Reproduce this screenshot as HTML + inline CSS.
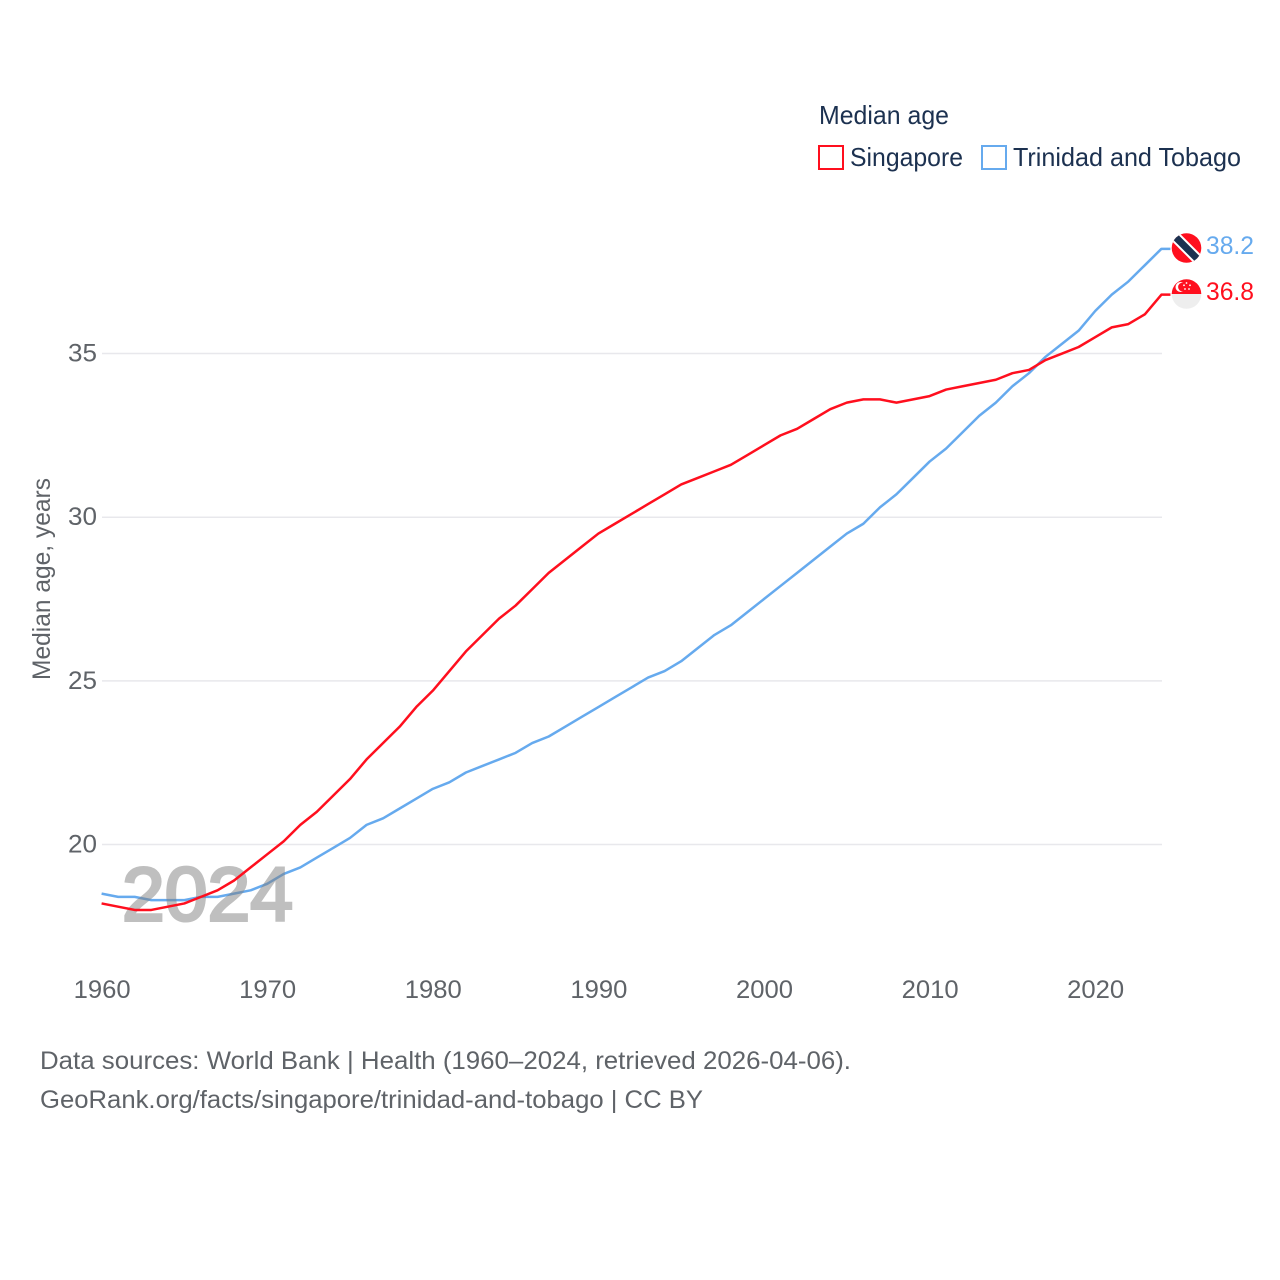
<!DOCTYPE html>
<html lang="en">
<head>
<meta charset="utf-8">
<title>Median age: Singapore and Trinidad and Tobago</title>
<style>
html,body{margin:0;padding:0;background:#fff;width:1280px;height:1280px;overflow:hidden}
svg{display:block}
text{font-family:"Liberation Sans",sans-serif}
.tick{font-size:25px;fill:#5f6368}
.foot{font-size:25px;fill:#5f6368}
.leg{font-size:26px;fill:#1c3150}
</style>
</head>
<body>
<svg id="chart" width="1280" height="1280" viewBox="0 0 1280 1280" xmlns="http://www.w3.org/2000/svg">
  <g id="grid"></g>
  <g id="yticks"></g>
  <g id="xticks"></g>
  <text class="tick" transform="translate(50,579) rotate(-90)" text-anchor="middle" textLength="202" lengthAdjust="spacingAndGlyphs">Median age, years</text>
  <g id="series-back"></g>
  <text id="year-label" x="122" y="920.5" font-size="76" font-weight="400" fill="#808080" stroke="#808080" stroke-width="3" opacity="0.5" textLength="171" lengthAdjust="spacingAndGlyphs">2024</text>
  <g id="series-front"></g>

  <g id="flag-tt">
    <clipPath id="clip-tt"><circle cx="1186.5" cy="248" r="14.8"/></clipPath>
    <g clip-path="url(#clip-tt)">
      <rect x="1170" y="232" width="33" height="33" fill="#ff0f1e"/>
      <line x1="1170.5" y1="232" x2="1202.5" y2="264" stroke="#fff" stroke-width="11"/>
      <line x1="1170.5" y1="232" x2="1202.5" y2="264" stroke="#1c3150" stroke-width="7"/>
    </g>
  </g>
  <g id="flag-sg">
    <clipPath id="clip-sg"><circle cx="1186.5" cy="294" r="14.8"/></clipPath>
    <g clip-path="url(#clip-sg)">
      <rect x="1170" y="294" width="33" height="16" fill="#eeeeee"/>
      <rect x="1170" y="278" width="33" height="16" fill="#ff0f1e"/>
      <circle cx="1180.5" cy="287" r="5" fill="#fff"/>
      <circle cx="1182.5" cy="287" r="4.4" fill="#ff0f1e"/>
      <circle cx="1186.5" cy="283" r="0.9" fill="#fff"/>
      <circle cx="1190" cy="285.3" r="0.9" fill="#fff"/>
      <circle cx="1189" cy="289" r="0.9" fill="#fff"/>
      <circle cx="1185" cy="289" r="0.9" fill="#fff"/>
      <circle cx="1184" cy="285.3" r="0.9" fill="#fff"/>
    </g>
  </g>

  <text id="value-tt" x="1206" y="254" font-size="25" fill="#66aaee" textLength="48" lengthAdjust="spacingAndGlyphs"></text>
  <text id="value-sg" x="1206" y="300" font-size="25" fill="#ff0f1e" textLength="48" lengthAdjust="spacingAndGlyphs"></text>

  <text class="leg" x="819" y="124" textLength="130" lengthAdjust="spacingAndGlyphs">Median age</text>
  <rect x="819" y="146" width="24" height="23" fill="#fff" stroke="#ff0f1e" stroke-width="2"/>
  <text class="leg" x="850" y="166" textLength="113" lengthAdjust="spacingAndGlyphs">Singapore</text>
  <rect x="982" y="146" width="24" height="23" fill="#fff" stroke="#66aaee" stroke-width="2"/>
  <text class="leg" x="1013" y="166" textLength="228" lengthAdjust="spacingAndGlyphs">Trinidad and Tobago</text>

  <text class="foot" x="40" y="1069" textLength="811" lengthAdjust="spacingAndGlyphs">Data sources: World Bank | Health (1960–2024, retrieved 2026-04-06).</text>
  <text class="foot" x="40" y="1108" textLength="663" lengthAdjust="spacingAndGlyphs">GeoRank.org/facts/singapore/trinidad-and-tobago | CC BY</text>
</svg>
<script>
const startYear = 1960;
const xTickYears = [1960, 1970, 1980, 1990, 2000, 2010, 2020];
const yTickValues = [20, 25, 30, 35];
const singaporeValues = [18.2,18.1,18.0,18.0,18.1,18.2,18.4,18.6,18.9,19.3,19.7,20.1,20.6,21.0,21.5,22.0,22.6,23.1,23.6,24.2,24.7,25.3,25.9,26.4,26.9,27.3,27.8,28.3,28.7,29.1,29.5,29.8,30.1,30.4,30.7,31.0,31.2,31.4,31.6,31.9,32.2,32.5,32.7,33.0,33.3,33.5,33.6,33.6,33.5,33.6,33.7,33.9,34.0,34.1,34.2,34.4,34.5,34.8,35.0,35.2,35.5,35.8,35.9,36.2,36.8];
const trinidadValues = [18.5,18.4,18.4,18.3,18.3,18.3,18.4,18.4,18.5,18.6,18.8,19.1,19.3,19.6,19.9,20.2,20.6,20.8,21.1,21.4,21.7,21.9,22.2,22.4,22.6,22.8,23.1,23.3,23.6,23.9,24.2,24.5,24.8,25.1,25.3,25.6,26.0,26.4,26.7,27.1,27.5,27.9,28.3,28.7,29.1,29.5,29.8,30.3,30.7,31.2,31.7,32.1,32.6,33.1,33.5,34.0,34.4,34.9,35.3,35.7,36.3,36.8,37.2,37.7,38.2];

const NS = 'http://www.w3.org/2000/svg';
function xScale(year) { return 101.6 + (year - 1960) * 16.56; }
function yScale(v) { return 844.5 - (v - 20) * 32.73; }
function make(tag, attrs, parent) {
  const el = document.createElementNS(NS, tag);
  for (const k in attrs) el.setAttribute(k, attrs[k]);
  parent.appendChild(el);
  return el;
}

const grid = document.getElementById('grid');
const yticks = document.getElementById('yticks');
yTickValues.forEach(function (v) {
  const line = make('line', { x1: 102, x2: 1162, y1: yScale(v), y2: yScale(v), stroke: '#e8e8ec', 'stroke-width': 1.5 }, grid);
  
  
  const t = make('text', { x: 97, y: yScale(v) + 8, 'text-anchor': 'end', class: 'tick', textLength: 29, lengthAdjust: 'spacingAndGlyphs' }, yticks);
  
  
  t.textContent = String(v);
});

const xticks = document.getElementById('xticks');
xTickYears.forEach(function (y) {
  const t = make('text', { x: xScale(y) - 28, y: 998, class: 'tick', textLength: 57, lengthAdjust: 'spacingAndGlyphs' }, xticks);
  
  
  t.textContent = String(y);
});

function drawSeries(values, color, parent, name) {
  const pts = values.map(function (v, i) { return xScale(startYear + i) + ',' + yScale(v); });
  const lastX = xScale(startYear + values.length - 1);
  const lastY = yScale(values[values.length - 1]);
  pts.push((lastX + 9) + ',' + lastY);
  const line = make('polyline', { points: pts.join(' '), fill: 'none', stroke: color, 'stroke-width': 2.5, 'stroke-linejoin': 'round' }, parent);
  
  
}
drawSeries(trinidadValues, '#66aaee', document.getElementById('series-back'), 'line-trinidad-and-tobago');
drawSeries(singaporeValues, '#ff0f1e', document.getElementById('series-front'), 'line-singapore');

document.getElementById('value-tt').textContent = trinidadValues[trinidadValues.length - 1].toFixed(1);
document.getElementById('value-sg').textContent = singaporeValues[singaporeValues.length - 1].toFixed(1);
</script>
</body>
</html>
